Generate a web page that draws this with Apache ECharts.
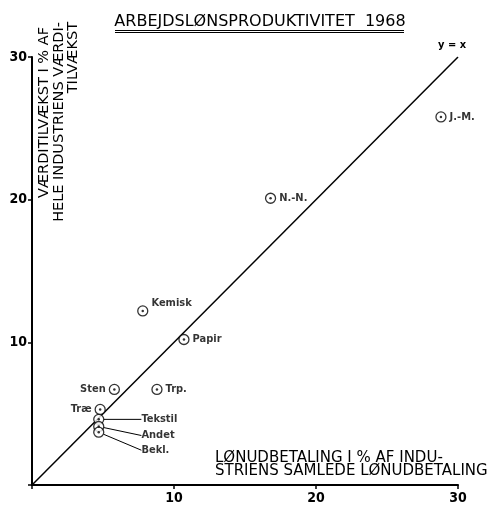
<!DOCTYPE html>
<html>
<head>
<meta charset="utf-8">
<title>Arbejdslønsproduktivitet 1968</title>
<script src="https://cdn.jsdelivr.net/npm/echarts@6/dist/echarts.min.js"></script>
</head>
<body style="margin:0;background:#fff;overflow:hidden;">
<div id="main" style="width:487px;height:505px;"></div>
<script type="text/javascript">
// brancher: x = lønudbetaling i %, y = værditilvækst i %
var branches = ['J.-M.', 'N.-N.', 'Kemisk', 'Papir', 'Sten', 'Trp.', 'Træ', 'Tekstil', 'Andet', 'Bekl.'];
var wageShare = [28.8, 16.8, 7.8, 10.7, 5.8, 8.8, 4.8, 4.7, 4.7, 4.7];
var valueShare = [25.8, 20.1, 12.2, 10.2, 6.7, 6.7, 5.3, 4.6, 4.1, 3.7];
var diagonal = [[0, 0], [30, 30]];
var ticks = [10, 20, 30];

var font = '"DejaVu Sans Condensed", "Liberation Sans Narrow", sans-serif';
var wide = '"DejaVu Sans", sans-serif';
var ink = '#000';

// hvor labels skal sidde (holdt adskilt fra data)
var labelLeft = {'Sten': true, 'Træ': true};
var labelShift = {'Kemisk': [0, -8], 'Tekstil': [34, 0], 'Andet': [34, 9], 'Bekl.': [34, 18]};
var withLeader = {'Tekstil': true, 'Andet': true, 'Bekl.': true};

var points = branches.map(function (n, i) {
  var item = {name: n, value: [wageShare[i], valueShare[i]]};
  if (labelLeft[n]) item.label = {position: 'left'};
  if (withLeader[n]) item.labelLine = {show: true};
  return item;
});

var myChart = echarts.init(document.getElementById('main'));

var axisCommon = {
  type: 'value',
  min: 0,
  max: 30,
  interval: 10,
  splitLine: {show: false},
  axisLine: {lineStyle: {color: ink, width: 2}},
  axisTick: {length: 4, lineStyle: {color: ink, width: 1.5}},
  axisLabel: {
    color: ink,
    fontFamily: font,
    fontSize: 14,
    fontWeight: 'bold',
    formatter: function (v) { return ticks.indexOf(v) >= 0 ? String(v) : ''; }
  }
};

var option = {
  animation: false,
  backgroundColor: '#fff',
  grid: {left: 32, right: 29, top: 57, bottom: 20},
  xAxis: echarts.util.merge({axisLabel: {margin: 6}}, axisCommon, true),
  yAxis: echarts.util.merge({axisLabel: {margin: 5}}, axisCommon, true),
  graphic: [
    {type: 'text', x: 260, y: 22, style: {text: 'ARBEJDSLØNSPRODUKTIVITET  1968', font: '16px ' + wide, fill: ink, align: 'center', verticalAlign: 'middle'}},
    {type: 'line', shape: {x1: 115, y1: 30.5, x2: 404, y2: 30.5}, style: {stroke: ink, lineWidth: 1}},
    {type: 'line', shape: {x1: 115, y1: 32.5, x2: 404, y2: 32.5}, style: {stroke: ink, lineWidth: 1}},
    {type: 'text', x: 44, y: 27, rotation: Math.PI / 2, style: {text: 'VÆRDITILVÆKST I % AF', font: '14.5px ' + wide, fill: ink, align: 'right', verticalAlign: 'middle'}},
    {type: 'text', x: 59, y: 22, rotation: Math.PI / 2, style: {text: 'HELE INDUSTRIENS VÆRDI-', font: '14.5px ' + wide, fill: ink, align: 'right', verticalAlign: 'middle'}},
    {type: 'text', x: 73, y: 22, rotation: Math.PI / 2, style: {text: 'TILVÆKST', font: '14.5px ' + wide, fill: ink, align: 'right', verticalAlign: 'middle'}},
    {type: 'text', x: 215, y: 458, style: {text: 'LØNUDBETALING I % AF INDU-', font: '15px ' + wide, fill: ink, align: 'left', verticalAlign: 'middle'}},
    {type: 'text', x: 215, y: 471, style: {text: 'STRIENS SAMLEDE LØNUDBETALING', font: '15px ' + wide, fill: ink, align: 'left', verticalAlign: 'middle'}}
  ],
  series: [
    {
      name: 'y = x',
      type: 'line',
      data: diagonal,
      symbol: 'none',
      lineStyle: {color: ink, width: 1.5},
      endLabel: {
        show: true,
        formatter: 'y = x',
        offset: [-28, -12],
        color: ink,
        fontFamily: font,
        fontSize: 11,
        fontWeight: 'bold'
      },
      z: 1
    },
    {
      name: 'brancher',
      type: 'scatter',
      data: points,
      symbol: 'circle',
      symbolSize: 10,
      itemStyle: {color: '#fff', borderColor: ink, borderWidth: 1.3},
      label: {
        show: true,
        position: 'right',
        distance: 3,
        formatter: '{b}',
        color: ink,
        fontFamily: font,
        fontSize: 11,
        fontWeight: 'bold'
      },
      labelLine: {show: false, lineStyle: {color: ink, width: 1}},
      labelLayout: function (p) {
        var s = labelShift[branches[p.dataIndex]];
        return s ? {dx: s[0], dy: s[1]} : {};
      },
      z: 3
    },
    {
      name: 'prik',
      type: 'scatter',
      data: points.map(function (d) { return d.value; }),
      symbolSize: 2.5,
      itemStyle: {color: ink},
      silent: true,
      z: 4
    }
  ]
};

myChart.setOption(option);
</script>
</body>
</html>
